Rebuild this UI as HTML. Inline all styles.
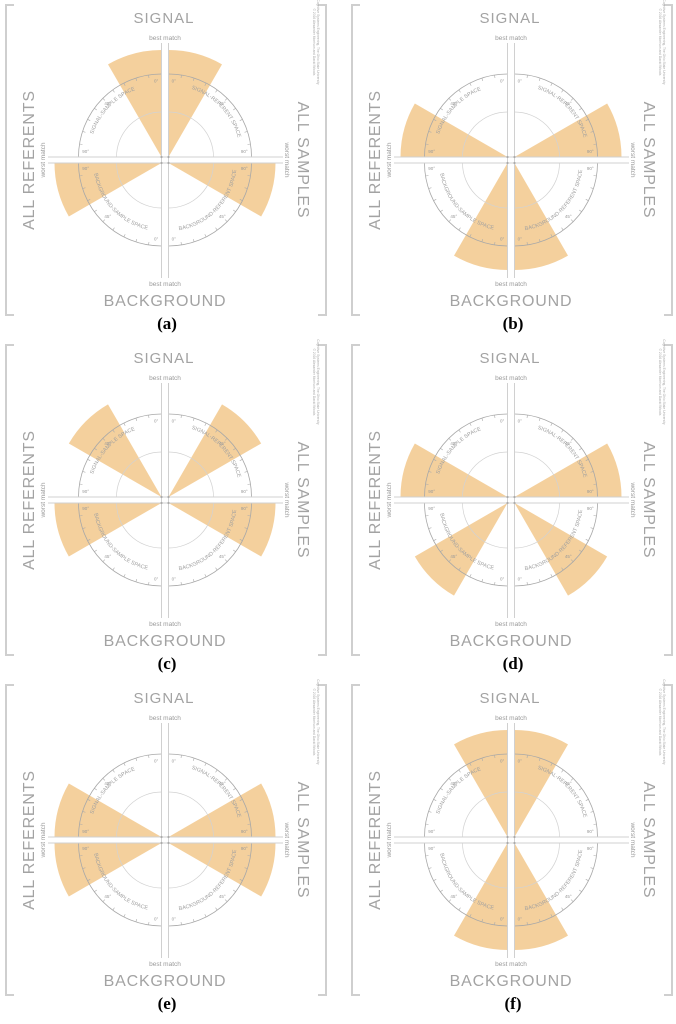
<!DOCTYPE html>
<html><head><meta charset="utf-8"><style>
html,body{margin:0;padding:0;background:#fff;}
svg{display:block;}
</style></head><body>
<svg id="fig" width="676" height="1024" viewBox="0 0 676 1024" xmlns="http://www.w3.org/2000/svg" font-family="Liberation Sans, sans-serif"></svg>
<script>
const panelLabels = ['(a)','(b)','(c)','(d)','(e)','(f)'];
// wedge angle ranges in degrees, 0 = vertical (best match), 90 = horizontal (worst match)
const tlStart = [0,60,30,60,60,0];
const tlEnd   = [30,90,60,90,90,30];
const trStart = [0,60,30,60,60,0];
const trEnd   = [30,90,60,90,90,30];
const blStart = [60,0,60,30,60,0];
const blEnd   = [90,30,90,60,90,30];
const brStart = [60,0,60,30,60,0];
const brEnd   = [90,30,90,60,90,30];
const wedgeRadius = [107,107,107,107,107,107];
const tickLabels = ['0°','45°','90°'];

const NS='http://www.w3.org/2000/svg';
const svg=document.getElementById('fig');
function mk(tag,attrs,parent){const e=document.createElementNS(NS,tag);for(const k in attrs)e.setAttribute(k,attrs[k]);(parent||svg).appendChild(e);return e;}
const colX=[0,346], rowY=[0,340,680];
const CX=165, CY=160, HX=3.5, HY=3, R_OUT=83, R_IN=45;
function pt(o,sx,sy,r,a){const t=a*Math.PI/180;return [o[0]+sx*r*Math.sin(t), o[1]+sy*r*Math.cos(t)];}

const quads=[
 {key:'signal-sample',sx:-1,sy:-1,title:'SIGNAL-SAMPLE SPACE',s:tlStart,e:tlEnd},
 {key:'signal-referent',sx:1,sy:-1,title:'SIGNAL-REFERENT SPACE',s:trStart,e:trEnd},
 {key:'background-sample',sx:-1,sy:1,title:'BACKGROUND-SAMPLE SPACE',s:blStart,e:blEnd},
 {key:'background-referent',sx:1,sy:1,title:'BACKGROUND-REFERENT SPACE',s:brStart,e:brEnd}
];

panelLabels.forEach((lab,i)=>{
  const g=mk('g',{transform:`translate(${colX[i%2]},${rowY[Math.floor(i/2)]})`});
  
  
  const bl=mk('path',{d:'M14,5 H6 V315 H14',fill:'none',stroke:'#cfcfcf','stroke-width':2},g);
  
  
  const br=mk('path',{d:'M318,5 H326 V315 H318',fill:'none',stroke:'#cfcfcf','stroke-width':2},g);
  
  
  quads.forEach((q,qi)=>{
    const o=[CX+q.sx*HX, CY+q.sy*HY];
    const r=wedgeRadius[i];
    const a0=q.s[i], a1=q.e[i];
    const p0=pt(o,q.sx,q.sy,r,a0), p1=pt(o,q.sx,q.sy,r,a1);
    const sweep=(q.sx*q.sy<0)?1:0;
    const w=mk('path',{d:`M${o[0]},${o[1]} L${p0[0]},${p0[1]} A${r},${r} 0 0 ${sweep} ${p1[0]},${p1[1]} Z`,fill:'#f2c98f','fill-opacity':0.88},g);
    
    
    [R_OUT,R_IN].forEach((rr,ri)=>{
      const a=pt(o,q.sx,q.sy,rr,0), b=pt(o,q.sx,q.sy,rr,90);
      const arc=mk('path',{d:`M${a[0]},${a[1]} A${rr},${rr} 0 0 ${sweep} ${b[0]},${b[1]}`,fill:'none',stroke:ri?'#d2d2d2':'#a8a8a8','stroke-width':ri?0.7:0.8},g);
      
      
    });
    for(let a=0;a<=90;a+=9){
      const t1=pt(o,q.sx,q.sy,R_OUT,a), t2=pt(o,q.sx,q.sy,R_OUT-3,a);
      const tk=mk('line',{x1:t1[0],y1:t1[1],x2:t2[0],y2:t2[1],stroke:'#aaa','stroke-width':0.6},g);
      
      
    }
    tickLabels.forEach((tl,ti)=>{
      const a=[4,45,86][ti];
      const p=pt(o,q.sx,q.sy,R_OUT-7,a);
      const t=mk('text',{x:p[0],y:p[1]+1.5,'font-size':4.5,fill:'#999','text-anchor':'middle'},g);
      t.textContent=tl;
      
      
    });
    const rt=q.sy<0?72:68;
    const s=q.sx<0?pt(o,q.sx,q.sy,rt,88):pt(o,q.sx,q.sy,rt,5);
    const e=q.sx<0?pt(o,q.sx,q.sy,rt,5):pt(o,q.sx,q.sy,rt,88);
    const d=`M${s[0]},${s[1]} A${rt},${rt} 0 0 ${q.sy<0?1:0} ${e[0]},${e[1]}`;
    const pid='p'+i+'_'+qi;
    mk('path',{id:pid,d:d,fill:'none',stroke:'none'},g);
    const tt=mk('text',{'font-size':5.4,fill:'#a0a0a0'},g);
    
    
    const tp=mk('textPath',{href:'#'+pid,startOffset:'50%','text-anchor':'middle'},tt);
    tp.textContent=q.title;
  });
  const ax=[
   [CX-HX,43,CX-HX,278],[CX+HX,43,CX+HX,278],
   [48,CY-HY,283,CY-HY],[48,CY+HY,283,CY+HY]
  ];
  ax.forEach(l=>{
    const e=mk('line',{x1:l[0],y1:l[1],x2:l[2],y2:l[3],stroke:'#d0d0d0','stroke-width':1},g);
    
    
  });
  [[-1,-1],[1,-1],[-1,1],[1,1]].forEach(s=>{
    const c=mk('circle',{cx:CX+s[0]*HX,cy:CY+s[1]*HY,r:1.1,fill:'#aaa'},g);
    
    
  });
  function txt(s,attrs,name){const t=mk('text',attrs,g);t.textContent=s;return t;}
  txt('SIGNAL',{x:CX-1,y:23,'font-size':15,fill:'#a3a3a3','text-anchor':'middle','letter-spacing':1},'signal-title');
  txt('BACKGROUND',{x:CX,y:306,'font-size':16,fill:'#a3a3a3','text-anchor':'middle','letter-spacing':0.8},'background-title');
  txt('ALL REFERENTS',{x:0,y:0,'font-size':16,fill:'#a3a3a3','text-anchor':'middle','letter-spacing':0.8,transform:'translate(34,160) rotate(-90)'},'all-referents-title');
  txt('ALL SAMPLES',{x:0,y:0,'font-size':16,fill:'#a3a3a3','text-anchor':'middle','letter-spacing':0.8,transform:'translate(298,160) rotate(90)'},'all-samples-title');
  txt('best match',{x:CX,y:40,'font-size':6.5,fill:'#999','text-anchor':'middle'},'best-match-top');
  txt('best match',{x:CX,y:286,'font-size':6.5,fill:'#999','text-anchor':'middle'},'best-match-bottom');
  txt('worst match',{x:0,y:0,'font-size':6.5,fill:'#999','text-anchor':'middle',transform:'translate(45,160) rotate(-90)'},'worst-match-left');
  txt('worst match',{x:0,y:0,'font-size':6.5,fill:'#999','text-anchor':'middle',transform:'translate(285,160) rotate(90)'},'worst-match-right');
  txt('© 2016 Alexander Morrison and David Woods',{x:0,y:0,'font-size':3.3,fill:'#aaa','text-anchor':'middle',transform:'translate(313,42) rotate(90)'},'copyright-line1');
  txt('Cognitive Systems Engineering, The Ohio State University',{x:0,y:0,'font-size':3.3,fill:'#aaa','text-anchor':'middle',transform:'translate(317,42) rotate(90)'},'copyright-line2');
  const fl=mk('text',{x:CX+2,y:329,'font-size':17,'font-weight':'bold',fill:'#000','text-anchor':'middle',style:'font-family:"Liberation Serif",serif'},g);
  fl.textContent=lab;
  
  
});
</script>
</body></html>
